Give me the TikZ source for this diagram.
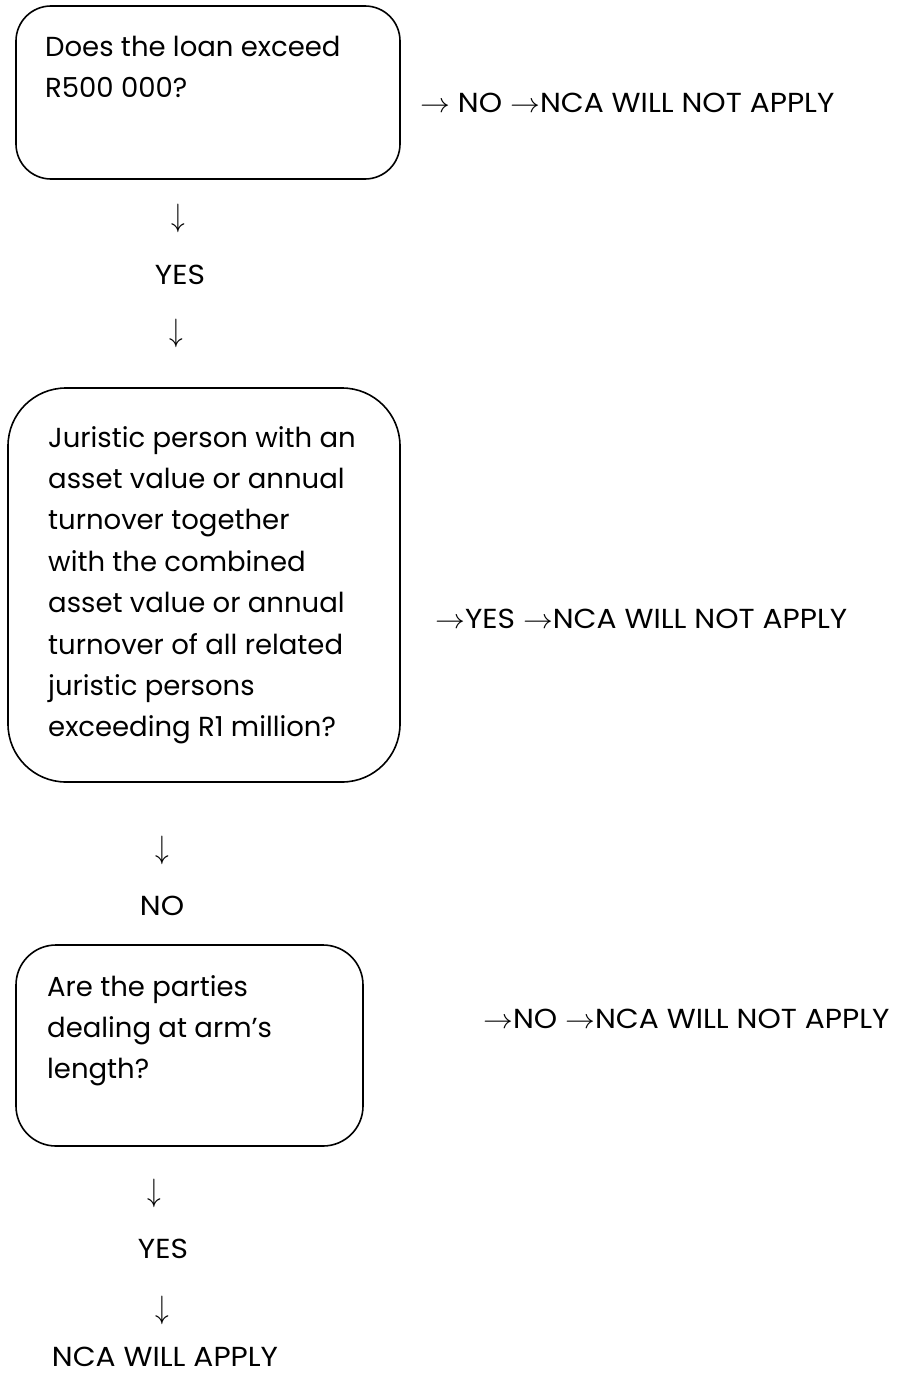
\documentclass[tikz,border=0pt]{standalone}
\usepackage{fontspec}
\setmainfont{Poppins}
\newfontfamily\capsfont[FakeStretch=1.08]{Poppins}
\usetikzlibrary{positioning}
\tikzset{
  qbox/.style={draw, line width=1.6pt, rounded corners=#1, inner sep=0pt},
  qtext/.style={anchor=north west, align=left, inner sep=0pt,
    font=\fontsize{27.5}{41.4}\selectfont},
  answer/.style={anchor=base west, inner sep=0pt, font=\capsfont\fontsize{27.5}{30}\selectfont},
  flow/.style={inner sep=0pt, font=\capsfont\fontsize{27.5}{30}\selectfont},
}
\newcommand\goright{\scalebox{1.2}[1.1]{$\rightarrow$}}
\newcommand\godown{\scalebox{1.1}[1.3]{$\downarrow$}}

\begin{document}
\begin{tikzpicture}[x=1pt, y=-1pt]

  \useasboundingbox (0,0) rectangle (899,1375);

  % question boxes
  \node[qbox=35pt, minimum width=384pt, minimum height=173pt] (box1) at (208,92.5) {};
  \node[qbox=58pt, minimum width=392pt, minimum height=394pt] (box2) at (204,585) {};
  \node[qbox=40pt, minimum width=347pt, minimum height=201pt] (box3) at (189.5,1045.5) {};

  \node[qtext] (q1) at (45,36) {Does the loan exceed\\R500 000?};
  \node[qtext] (q2) at (48,426) {Juristic person with an\\asset value or annual\\turnover together\\with the combined\\asset value or annual\\turnover of all related\\juristic persons\\exceeding R1 million?};
  \node[qtext] (q3) at (47,975) {Are the parties\\dealing at arm’s\\length?};

  % answers on the right
  \node[answer] (a1) at (420,113) {\goright{} NO \goright{}NCA WILL NOT APPLY};
  \node[answer] (a2) at (435,628) {\goright{}YES \goright{}NCA WILL NOT APPLY};
  \node[answer] (a3) at (483,1028) {\goright{}NO \goright{}NCA WILL NOT APPLY};

  % downward flow
  \node[flow] (d1) at (178,218) {\godown};
  \node[flow] (y1) at (180,275) {YES};
  \node[flow] (d2) at (176,333) {\godown};

  \node[flow] (d3) at (162,850) {\godown};
  \node[flow] (n1) at (162,906) {NO};

  \node[flow] (d4) at (154,1193) {\godown};
  \node[flow] (y2) at (163,1249) {YES};
  \node[flow] (d5) at (162,1310) {\godown};
  \node[flow] (end) at (165,1357) {NCA WILL APPLY};

\end{tikzpicture}
\end{document}
